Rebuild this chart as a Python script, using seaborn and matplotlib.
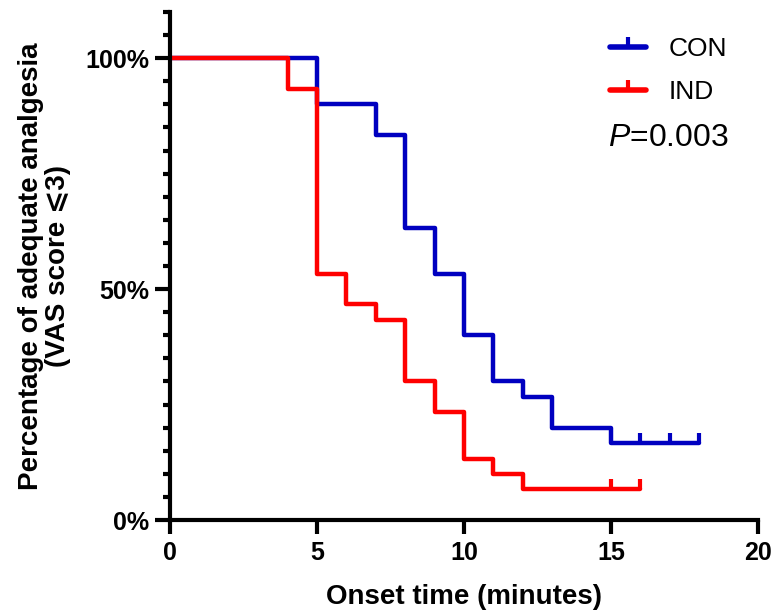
import matplotlib
matplotlib.use('Agg')
import matplotlib.pyplot as plt
import seaborn as sns
import pandas as pd
from matplotlib.lines import Line2D
from matplotlib.ticker import MultipleLocator, FixedLocator

# Kaplan-Meier steps
con_time = [0, 5, 7, 8, 9, 10, 11, 12, 13, 15, 18]
con_pct = [100, 90, 83.3, 63.3, 53.3, 40, 30, 26.7, 20, 16.7, 16.7]
con_censor_time = [16, 17, 18]
con_censor_pct = [16.7, 16.7, 16.7]

ind_time = [0, 4, 5, 6, 7, 8, 9, 10, 11, 12, 16]
ind_pct = [100, 93.3, 53.3, 46.7, 43.3, 30, 23.3, 13.3, 10, 6.7, 6.7]
ind_censor_time = [15, 16]
ind_censor_pct = [6.7, 6.7]

groups = ['CON', 'IND']
colors = {'CON': '#0000C0', 'IND': '#FF0000'}
x_ticks = [0, 5, 10, 15, 20]
y_ticks = [0, 50, 100]
y_ticklabels = ['0%', '50%', '100%']

df = pd.concat([
    pd.DataFrame({'time': con_time, 'pct': con_pct, 'group': 'CON'}),
    pd.DataFrame({'time': ind_time, 'pct': ind_pct, 'group': 'IND'}),
])

sns.set_style('ticks')
plt.rcParams['font.family'] = ['Liberation Sans', 'DejaVu Sans']
plt.rcParams['mathtext.fontset'] = 'custom'
plt.rcParams['mathtext.it'] = 'Liberation Sans:italic'
plt.rcParams['mathtext.rm'] = 'Liberation Sans'
plt.rcParams['text.color'] = 'black'
plt.rcParams['axes.labelcolor'] = 'black'
plt.rcParams['axes.edgecolor'] = 'black'
plt.rcParams['xtick.color'] = 'black'
plt.rcParams['ytick.color'] = 'black'

fig = plt.figure(figsize=(7.72, 6.13), dpi=100)
ax = fig.add_axes([0.2202, 0.1517, 0.7617, 0.8287])

sns.lineplot(data=df, x='time', y='pct', hue='group', palette=colors,
             drawstyle='steps-post', estimator=None, sort=False,
             linewidth=3.2, legend=False, ax=ax)

# censor marks
ax.plot(con_censor_time, con_censor_pct, ls='none', marker=2, ms=7, mew=3,
        color=colors['CON'], clip_on=False)
ax.plot(ind_censor_time, ind_censor_pct, ls='none', marker=2, ms=7, mew=3,
        color=colors['IND'], clip_on=False)

ax.set_xlim(0, 20)
ax.set_ylim(0, 110)
ax.xaxis.set_major_locator(FixedLocator(x_ticks))
ax.yaxis.set_major_locator(FixedLocator(y_ticks))
ax.set_yticklabels(y_ticklabels)
ax.yaxis.set_minor_locator(MultipleLocator(5))

for s in ['top', 'right']:
    ax.spines[s].set_visible(False)
for s in ['left', 'bottom']:
    ax.spines[s].set_linewidth(3)

ax.tick_params(axis='both', which='major', width=3, labelsize=18, pad=4)
ax.tick_params(axis='y', which='major', length=11)
ax.tick_params(axis='x', which='major', length=10, pad=5)
ax.tick_params(axis='y', which='minor', length=5, width=3)
for lab in ax.get_xticklabels() + ax.get_yticklabels():
    lab.set_fontweight('bold')

ax.set_xlabel('Onset time (minutes)', fontsize=20, fontweight='bold', labelpad=14)
ax.set_ylabel('Percentage of adequate analgesia\n(VAS score \u2a7d3)',
              fontsize=20, fontweight='bold', linespacing=1.05)
ax.yaxis.set_label_coords(-0.168, 0.5)

handles = [Line2D([], [], color=colors[g], lw=4, marker=2, ms=7, mew=3) for g in groups]
ax.legend(handles, groups, loc='upper left', bbox_to_anchor=(0.749, 0.95),
          frameon=False, fontsize=19, handlelength=1.33, handletextpad=0.87,
          labelspacing=0.72, borderaxespad=0, borderpad=0)

ax.text(0.745, 0.752, '$P$=0.003', transform=ax.transAxes, fontsize=23,
        ha='left', va='center')

fig.savefig('out.png', dpi=100)
